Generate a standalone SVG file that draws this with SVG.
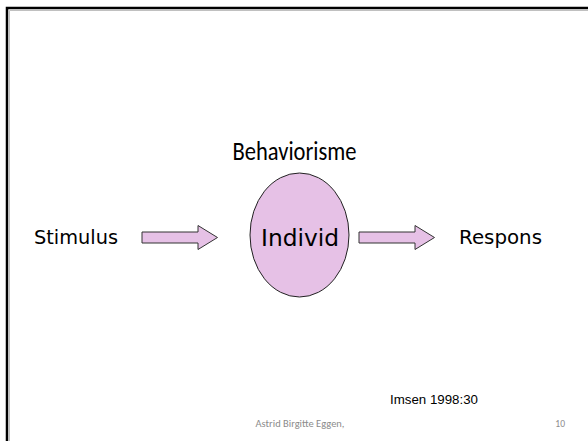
<svg xmlns="http://www.w3.org/2000/svg" width="588" height="441" viewBox="0 0 588 441">
<defs>
<style>
.lbl{font-family:"DejaVu Sans","Liberation Sans",sans-serif;fill:#000}
.arrow{fill:#E6C1E6;stroke:#333;stroke-width:1}
.node{fill:#E6C1E6;stroke:#222;stroke-width:1}
.foot{font-family:Carlito,"Liberation Sans",sans-serif;font-size:9.5px;fill:#8c8c8c}
</style>
</defs>
<rect x="0" y="0" width="588" height="441" fill="#fff"/>
<g id="frame">
<path d="M7,441 V8 H588" fill="none" stroke="#000" stroke-width="2.5"/>
<path d="M9.5,441 V10.5 H588" fill="none" stroke="#b0b0b0" stroke-width="0.8"/>
</g>
<g id="title">
<text x="294.5" y="160" text-anchor="middle" font-family="Carlito,'Liberation Sans',sans-serif" font-size="27" textLength="124" lengthAdjust="spacingAndGlyphs" fill="#000">Behaviorisme</text>
</g>
<g id="stimulus">
<text class="lbl" x="34" y="244" font-size="19" textLength="84" lengthAdjust="spacingAndGlyphs">Stimulus</text>
</g>
<g id="individ">
<ellipse class="node" cx="299.5" cy="235" rx="49.5" ry="62"/>
<text class="lbl" x="300" y="246" font-size="23" text-anchor="middle" textLength="78" lengthAdjust="spacingAndGlyphs">Individ</text>
</g>
<g id="respons">
<text class="lbl" x="459" y="244" font-size="19" textLength="83" lengthAdjust="spacingAndGlyphs">Respons</text>
</g>
<g id="connectors">
<path class="arrow" d="M142,232 H198 V225.5 L217.5,237.5 L198,249.5 V243 H142 Z"/>
<path class="arrow" d="M359,232 H415 V225.5 L434.5,237.5 L415,249.5 V243 H359 Z"/>
</g>
<g id="source">
<text x="390" y="404" font-family="'Liberation Sans',Arial,sans-serif" font-size="13.3" fill="#000">Imsen 1998:30</text>
</g>
<g id="footer">
<text class="foot" x="300" y="427" text-anchor="middle" textLength="89" lengthAdjust="spacingAndGlyphs">Astrid Birgitte Eggen,</text>
<text class="foot" x="565" y="427" text-anchor="end">10</text>
</g>
</svg>
